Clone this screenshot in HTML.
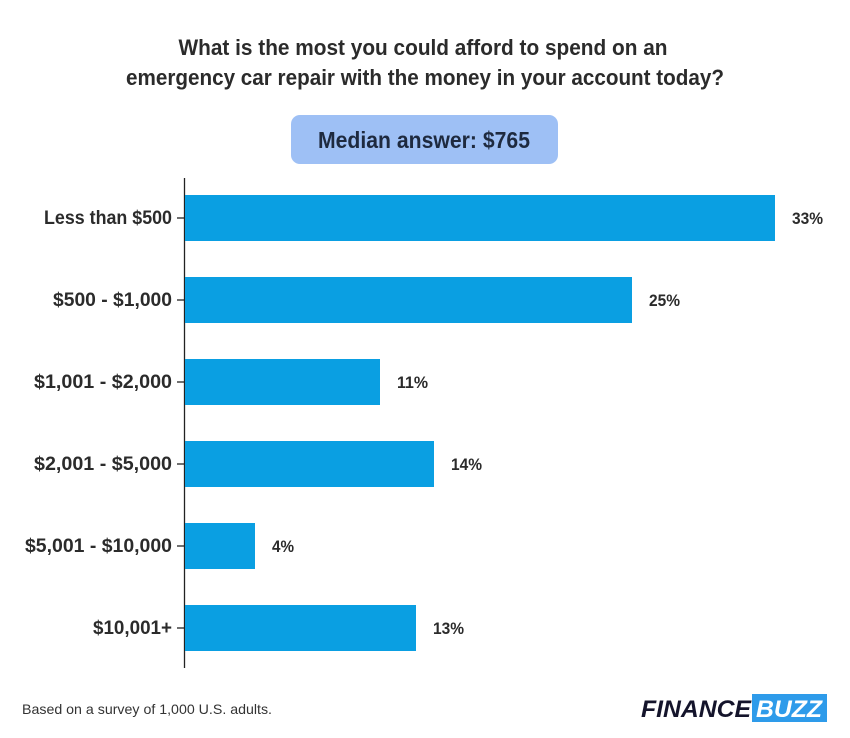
<!DOCTYPE html>
<html><head><meta charset="utf-8"><style>
html,body{margin:0;padding:0;background:#fff;}
svg{display:block;font-family:"Liberation Sans",sans-serif;font-weight:bold;}
</style></head><body>
<svg width="850" height="738" viewBox="0 0 850 738" xmlns="http://www.w3.org/2000/svg">
<rect width="850" height="738" fill="#fff"/>
<g fill="#2b2b2b" font-size="22" text-anchor="middle">
<text x="423" y="55" textLength="489" lengthAdjust="spacingAndGlyphs">What is the most you could afford to spend on an</text>
<text x="425" y="85" textLength="598" lengthAdjust="spacingAndGlyphs">emergency car repair with the money in your account today?</text>
</g>
<rect x="291" y="115" width="267" height="49" rx="9" fill="#9ec0f5"/>
<text x="424" y="148" font-size="23" fill="#1e2a3f" text-anchor="middle" textLength="212" lengthAdjust="spacingAndGlyphs">Median answer: $765</text>
<line x1="184.5" y1="178" x2="184.5" y2="668" stroke="#222" stroke-width="1.3"/>
<g fill="#0a9fe2">
<rect x="185" y="195" width="590" height="46"/>
<rect x="185" y="277" width="447" height="46"/>
<rect x="185" y="359" width="195" height="46"/>
<rect x="185" y="441" width="249" height="46"/>
<rect x="185" y="523" width="70" height="46"/>
<rect x="185" y="605" width="231" height="46"/>
</g>
<g stroke="#222" stroke-width="1.3">
<line x1="177" y1="218" x2="185" y2="218"/><line x1="177" y1="300" x2="185" y2="300"/>
<line x1="177" y1="382" x2="185" y2="382"/><line x1="177" y1="464" x2="185" y2="464"/>
<line x1="177" y1="546" x2="185" y2="546"/><line x1="177" y1="628" x2="185" y2="628"/>
</g>
<g fill="#2b2b2b" font-size="19" text-anchor="end">
<text x="172" y="224" textLength="128" lengthAdjust="spacingAndGlyphs">Less than $500</text>
<text x="172" y="306" textLength="119" lengthAdjust="spacingAndGlyphs">$500 - $1,000</text>
<text x="172" y="388" textLength="138" lengthAdjust="spacingAndGlyphs">$1,001 - $2,000</text>
<text x="172" y="470" textLength="138" lengthAdjust="spacingAndGlyphs">$2,001 - $5,000</text>
<text x="172" y="552" textLength="147" lengthAdjust="spacingAndGlyphs">$5,001 - $10,000</text>
<text x="172" y="634" textLength="79" lengthAdjust="spacingAndGlyphs">$10,001+</text>
</g>
<g fill="#2b2b2b" font-size="17">
<text x="792" y="224" textLength="31" lengthAdjust="spacingAndGlyphs">33%</text>
<text x="649" y="306" textLength="31" lengthAdjust="spacingAndGlyphs">25%</text>
<text x="397" y="388" textLength="31" lengthAdjust="spacingAndGlyphs">11%</text>
<text x="451" y="470" textLength="31" lengthAdjust="spacingAndGlyphs">14%</text>
<text x="272" y="552" textLength="22" lengthAdjust="spacingAndGlyphs">4%</text>
<text x="433" y="634" textLength="31" lengthAdjust="spacingAndGlyphs">13%</text>
</g>
<text x="22" y="714" font-size="14" font-weight="normal" fill="#333" textLength="250" lengthAdjust="spacingAndGlyphs">Based on a survey of 1,000 U.S. adults.</text>
<text x="641" y="717" font-size="24" font-style="italic" fill="#14142b" textLength="110" lengthAdjust="spacingAndGlyphs">FINANCE</text>
<rect x="752" y="694" width="75" height="28" fill="#2e9bea"/>
<text x="756" y="717" font-size="24" font-style="italic" fill="#fff" textLength="66" lengthAdjust="spacingAndGlyphs">BUZZ</text>
</svg>
</body></html>
